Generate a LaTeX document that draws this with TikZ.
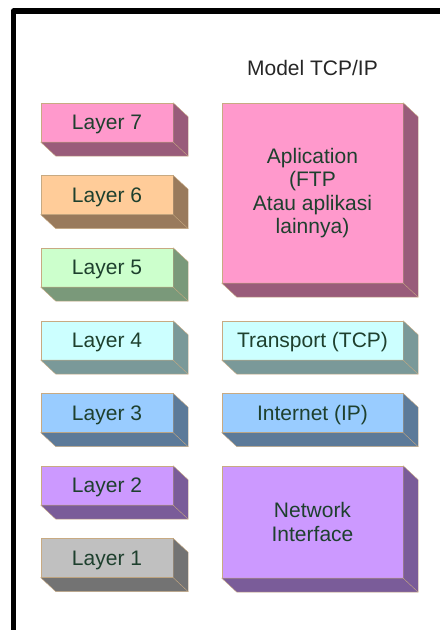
\documentclass[tikz,border=0pt]{standalone}
\usepackage{fontspec}
\setmainfont{Liberation Sans}

\definecolor{boxline}{RGB}{200,170,130}
\definecolor{labeltext}{RGB}{30,64,46}
\definecolor{pinkfront}{RGB}{255,153,204}
\definecolor{pinkside}{RGB}{153,92,122}
\definecolor{orangefront}{RGB}{255,204,153}
\definecolor{orangeside}{RGB}{153,122,92}
\definecolor{greenfront}{RGB}{204,255,204}
\definecolor{greenside}{RGB}{122,153,122}
\definecolor{cyanfront}{RGB}{204,255,255}
\definecolor{cyanside}{RGB}{122,153,153}
\definecolor{bluefront}{RGB}{153,204,255}
\definecolor{blueside}{RGB}{92,122,153}
\definecolor{purplefront}{RGB}{204,153,255}
\definecolor{purpleside}{RGB}{122,92,153}
\definecolor{grayfront}{RGB}{192,192,192}
\definecolor{grayside}{RGB}{115,115,115}

\tikzset{
  boxface/.style={draw=boxline, fill=#1, inner sep=0pt, text=labeltext,
    font=\fontsize{21}{23.3}\selectfont},
  layer/.style={boxface=#1, minimum width=132, minimum height=39,
    text height=15pt, text depth=0pt},
  tcpip/.style={boxface=#1, minimum width=181, align=center}
}

% bottom and right faces of a box, pushed back by (15,-14)
\def\sides#1#2{
  \filldraw[fill=#2, draw=boxline] (#1.south west) -- ++(15,-14)
    -| ([shift={(15,-14)}]#1.north east) -- (#1.north east)
    -- (#1.south east) -- cycle;
  \draw[boxline] (#1.south east) -- ++(15,-14);
}

\begin{document}
\begin{tikzpicture}[x=1pt, y=1pt]

\useasboundingbox (0,0) rectangle (440,630);

% frame
\begin{scope}
\clip (0,0) rectangle (440,630);
\draw[line width=5.5, line join=round] (13.5,0) |- (440,619);
\end{scope}

% OSI layers
\node[layer=pinkfront] (l7) at (107,507.5) {Layer 7};
\node[layer=orangefront] (l6) at (107,435) {Layer 6};
\node[layer=greenfront] (l5) at (107,362.5) {Layer 5};
\node[layer=cyanfront] (l4) at (107,289.5) {Layer 4};
\node[layer=bluefront] (l3) at (107,217) {Layer 3};
\node[layer=purplefront] (l2) at (107,144.5) {Layer 2};
\node[layer=grayfront] (l1) at (107,72) {Layer 1};

\sides{l7}{pinkside}
\sides{l6}{orangeside}
\sides{l5}{greenside}
\sides{l4}{cyanside}
\sides{l3}{blueside}
\sides{l2}{purpleside}
\sides{l1}{grayside}

% TCP/IP layers
\node[font=\fontsize{21}{24}\selectfont, text=black!85, text height=15pt,
  text depth=0pt] (title) at (312.5,562) {Model TCP/IP};

\node[tcpip=pinkfront, minimum height=180] (app) at (312.5,437)
  {Aplication\\(FTP\\Atau aplikasi\\lainnya)};
\node[tcpip=cyanfront, minimum height=39, text height=15pt, text depth=0pt]
  (transport) at (312.5,289.5) {Transport (TCP)};
\node[tcpip=bluefront, minimum height=39, text height=15pt, text depth=0pt]
  (internet) at (312.5,217) {Internet (IP)};
\node[tcpip=purplefront, minimum height=112] (netif) at (312.5,108)
  {Network\\Interface};

\sides{app}{pinkside}
\sides{transport}{cyanside}
\sides{internet}{blueside}
\sides{netif}{purpleside}

\end{tikzpicture}
\end{document}
